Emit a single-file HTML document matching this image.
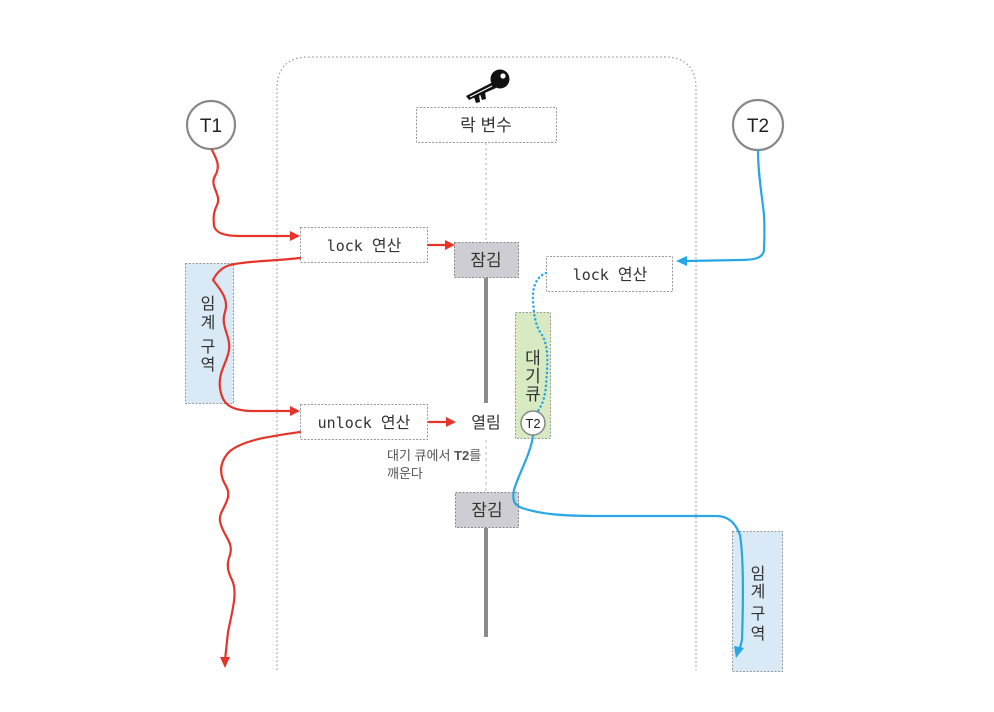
<!DOCTYPE html>
<html>
<head>
<meta charset="utf-8">
<style>
html,body{margin:0;padding:0;background:#fff;}
svg{display:block;}
.k{font-family:"Liberation Sans","Noto Sans CJK KR",sans-serif;fill:#333;}
.m{font-family:"DejaVu Sans Mono","Liberation Mono","Noto Sans CJK KR",monospace;fill:#333;}
</style>
</head>
<body>
<svg width="994" height="712" viewBox="0 0 994 712" xmlns="http://www.w3.org/2000/svg">
  <!-- outer dotted rounded container -->
  <path d="M277,670 L277,89 Q277,57 309,57 L664,57 Q696,57 696,89 L696,670" fill="none" stroke="#999" stroke-width="1.2" stroke-dasharray="1.5 2.5"/>

  <!-- key icon -->
  <g>
    <circle cx="500" cy="79" r="9.5" fill="#111"/>
    <circle cx="503" cy="76" r="2.6" fill="#fff"/>
    <path d="M493,82 L466,96 L469,100 L496,88 Z" fill="#111"/>
    <path d="M470,97 L492,86" stroke="#fff" stroke-width="1" />
    <path d="M474,97 L476,103 L480,102 L479,95 Z" fill="#111"/>
    <path d="M480,94 L482,100 L486,99 L485,92 Z" fill="#111"/>
  </g>

  <!-- 락 변수 box -->
  <rect x="416.5" y="107.5" width="140" height="35" fill="#fff" stroke="#999" stroke-width="1" stroke-dasharray="2 1.5"/>
  <text x="486" y="131" text-anchor="middle" class="k" font-size="17">락 변수</text>
  <line x1="486" y1="143" x2="486" y2="242" stroke="#aaa" stroke-width="1" stroke-dasharray="2 3"/>

  <!-- T1 / T2 circles -->
  <circle cx="211" cy="125" r="24" fill="#fff" stroke="#888" stroke-width="2.2"/>
  <text x="211" y="132" text-anchor="middle" font-family="Liberation Sans, sans-serif" font-size="19" fill="#222">T1</text>
  <circle cx="758" cy="125" r="25" fill="#fff" stroke="#888" stroke-width="2.2"/>
  <text x="758" y="132" text-anchor="middle" font-family="Liberation Sans, sans-serif" font-size="19" fill="#222">T2</text>

  <!-- left lock box -->
  <rect x="300.5" y="227.5" width="127" height="35" fill="#fff" stroke="#999" stroke-width="1" stroke-dasharray="2 1.5"/>
  <text x="364" y="251" text-anchor="middle" class="m" font-size="15">lock <tspan font-family="Noto Sans CJK KR, sans-serif" font-size="16">연산</tspan></text>

  <!-- 잠김 1 -->
  <rect x="454.5" y="242.5" width="64" height="35" fill="#cdcdd3" stroke="#888" stroke-width="1" stroke-dasharray="2 1.5"/>
  <text x="486" y="266" text-anchor="middle" class="k" font-size="17">잠김</text>
  <line x1="486" y1="278" x2="486" y2="403" stroke="#8a8a90" stroke-width="4"/>

  <!-- 임계 구역 left -->
  <rect x="185.5" y="263.5" width="48" height="140" fill="#d9e9f6" stroke="#999" stroke-width="1" stroke-dasharray="2 1.5"/>
  <g class="k" font-size="16" text-anchor="middle">
    <text x="208" y="309">임</text>
    <text x="208" y="328">계</text>
    <text x="208" y="352">구</text>
    <text x="208" y="370">역</text>
  </g>

  <!-- unlock box -->
  <rect x="300.5" y="404.5" width="127" height="35" fill="#fff" stroke="#999" stroke-width="1" stroke-dasharray="2 1.5"/>
  <text x="364" y="428" text-anchor="middle" class="m" font-size="15">unlock <tspan font-family="Noto Sans CJK KR, sans-serif" font-size="16">연산</tspan></text>

  <!-- 열림 -->
  <text x="486" y="428" text-anchor="middle" class="k" font-size="16">열림</text>
  <line x1="486" y1="440" x2="486" y2="492" stroke="#bbb" stroke-width="1" stroke-dasharray="3 3"/>

  <!-- note -->
  <text x="387" y="460" class="k" font-size="13" style="fill:#555">대기 큐에서 <tspan font-weight="bold">T2</tspan>를</text>
  <text x="387" y="478" class="k" font-size="13" style="fill:#555">깨운다</text>

  <!-- 잠김 2 -->
  <rect x="455.5" y="492.5" width="63" height="35" fill="#cdcdd3" stroke="#888" stroke-width="1" stroke-dasharray="2 1.5"/>
  <text x="487" y="516" text-anchor="middle" class="k" font-size="17">잠김</text>
  <line x1="486" y1="528" x2="486" y2="637" stroke="#8a8a90" stroke-width="4"/>

  <!-- right lock box -->
  <rect x="546.5" y="256.5" width="126" height="35" fill="#fff" stroke="#999" stroke-width="1" stroke-dasharray="2 1.5"/>
  <text x="610" y="280" text-anchor="middle" class="m" font-size="15">lock <tspan font-family="Noto Sans CJK KR, sans-serif" font-size="16">연산</tspan></text>

  <!-- 대기큐 green -->
  <rect x="515.5" y="312.5" width="35" height="126" fill="#d7eac2" stroke="#999" stroke-width="1" stroke-dasharray="2 1.5"/>
  <g class="k" font-size="17" text-anchor="middle">
    <text x="533" y="364">대</text>
    <text x="533" y="382">기</text>
    <text x="533" y="400">큐</text>
  </g>

  <!-- 임계 구역 right -->
  <rect x="732.5" y="531.5" width="50" height="140" fill="#d9e9f6" stroke="#999" stroke-width="1" stroke-dasharray="2 1.5"/>
  <g class="k" font-size="16" text-anchor="middle">
    <text x="758" y="579">임</text>
    <text x="758" y="597">계</text>
    <text x="758" y="619">구</text>
    <text x="758" y="639">역</text>
  </g>

  <!-- RED paths -->
  <g fill="none" stroke="#e4352a" stroke-width="2.2" stroke-linecap="round" stroke-linejoin="round">
    <path d="M212,150 C216,158 221,166 215,176 C209,186 222,195 217,205 C212,215 214,222 214,226 C216,233 224,236 240,236 L291,236"/>
    <path d="M300,258 C275,261 245,261 230,265 C220,268 215,276 213,280 C221,290 229,300 225,312 C220,326 231,336 229,350 C227,363 218,372 220,388 C222,404 230,410 250,411 L291,411"/>
    <path d="M300,432 C272,436 242,440 229,452 C218,464 220,476 226,486 C234,500 218,510 220,521 C222,535 234,541 230,555 C226,565 228,572 232,580 C238,592 232,612 228,632 L225,660"/>
    <line x1="428" y1="245" x2="446" y2="245"/>
    <line x1="429" y1="422" x2="447" y2="422"/>
  </g>
  <g fill="#e4352a">
    <path d="M300,236 L290,231 L290,241 Z"/>
    <path d="M300,411 L290,406 L290,416 Z"/>
    <path d="M455,245 L445,240 L445,250 Z"/>
    <path d="M456,422 L446,417 L446,427 Z"/>
    <path d="M225,668 L220,657 L230,657 Z"/>
  </g>

  <!-- BLUE paths -->
  <g fill="none" stroke="#28a6e6" stroke-width="2.2" stroke-linecap="round" stroke-linejoin="round">
    <path d="M758,150 C758,175 762,195 764,215 C765,235 764,245 764,250 C763,258 755,260 740,260 L686,261"/>
    <path d="M533,436 C530,456 518,475 514,490 C512,500 514,505 522,508 C540,514 560,516 600,516 L716,516 C728,516 735,522 740,535 C744,560 743,610 742,640 L740,648"/>
  </g>
  <path d="M546,273 C538,276 532,285 533,300 C534,315 535,325 542,335 C550,348 547,370 546,385 C545,398 542,405 538,411" fill="none" stroke="#28a6e6" stroke-width="2.5" stroke-linecap="round" stroke-dasharray="0.1 4.2"/>
  <g fill="#28a6e6">
    <path d="M676,261 L687,256 L687,266 Z"/>
    <path d="M736,658 L734,646 L744,648 Z"/>
  </g>

  <!-- T2 in queue -->
  <circle cx="533" cy="423" r="12" fill="#fff" stroke="#888" stroke-width="1.5"/>
  <text x="533" y="428" text-anchor="middle" font-family="Liberation Sans, sans-serif" font-size="13" fill="#222">T2</text>
</svg>
</body>
</html>
